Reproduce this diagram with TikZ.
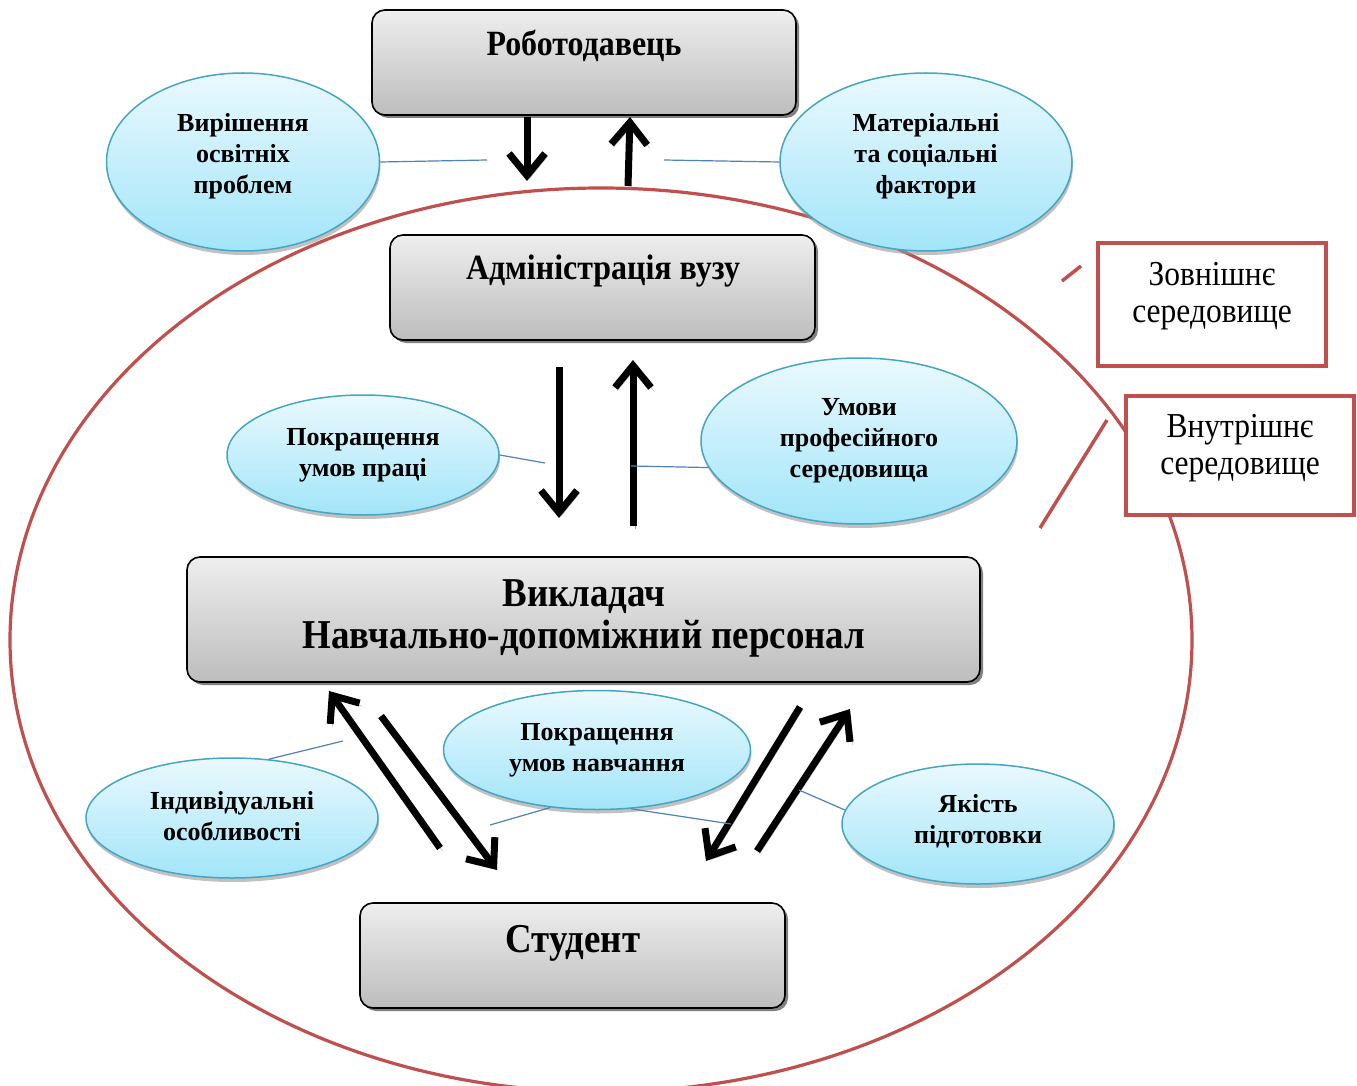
\documentclass[tikz,border=0pt]{standalone}
\usepackage{fontspec}
\setmainfont[FakeStretch=0.9]{Liberation Serif}
\newfontfamily\ellfont{Liberation Serif}
\usetikzlibrary{arrows.meta,shadows,calc,shapes.geometric}
\definecolor{redc}{HTML}{C0504D}
\definecolor{thinb}{HTML}{4F81BD}
\definecolor{ellb}{HTML}{46A5C2}
\definecolor{ellt}{HTML}{EAF9FE}
\definecolor{ellbot}{HTML}{A2E5F9}
\definecolor{boxt}{HTML}{EEEEEE}
\definecolor{boxbot}{HTML}{BDBDBD}
\tikzset{
  boxnode/.style={draw=black, line width=1.6pt, rounded corners=13pt, top color=boxt, bottom color=boxbot,
    drop shadow={shadow xshift=3pt, shadow yshift=-3pt, fill=black!70, opacity=0.7}},
  boxtext/.style={font=\bfseries\fontsize{35.5}{40}\selectfont, align=center, inner sep=0pt},
  bigtext/.style={font=\bfseries\fontsize{41}{42}\selectfont, align=center, inner sep=0pt},
  ellnode/.style={ellipse, draw=ellb, line width=1.5pt, top color=ellt, bottom color=ellbot, inner sep=0pt,
    drop shadow={shadow xshift=1pt, shadow yshift=-4pt, fill=black!40, opacity=0.6},
    align=center, font=\ellfont\bfseries\fontsize{26}{31}\selectfont},
  elltext/.style={align=center, inner sep=0pt, font=\ellfont\bfseries\fontsize{26}{31}\selectfont},
  labnode/.style={draw=redc, line width=3.5pt, fill=white, align=center, inner sep=0pt},
  labtext/.style={font=\fontsize{35}{37}\selectfont, align=center, inner sep=0pt},
  bigarrow/.style={line width=7pt, -{Straight Barb[length=22pt,width=36pt]},
    preaction={draw=black!35, transform canvas={xshift=2.5pt,yshift=-3pt}}},
  thin/.style={draw=thinb, line width=1.2pt},
  redline/.style={draw=redc, line width=3.5pt},
}
\begin{document}
\begin{tikzpicture}[x=1pt,y=-1pt]
\useasboundingbox (0,0) rectangle (1357,1086);
\fill[white] (0,0) rectangle (1357,1086);

% big red ellipse (inner environment)
\draw[redline, line width=3.2pt] (601,640) ellipse [x radius=591, y radius=452];

% boxes
\node[boxnode, minimum width=424pt, minimum height=105pt] (rob) at (584,62.5) {};
\node[boxtext] (robt) at (584,46) {Роботодавець};
\node[boxnode, minimum width=425pt, minimum height=105pt] (adm) at (602.5,287.5) {};
\node[boxtext] (admt) at (603,271) {Адміністрація вузу};
\node[boxnode, minimum width=793pt, minimum height=125pt] (vyk) at (583.5,619.5) {};
\node[bigtext] (vykt) at (584,618) {Викладач\\Навчально-допоміжний персонал};
\node[boxnode, minimum width=425pt, minimum height=105pt] (stu) at (572.5,955.5) {};
\node[bigtext] (stut) at (573,943) {Студент};

% ellipses
\node[ellnode, minimum width=273pt, minimum height=178pt] (vyr) at (243,162) {};
\node[elltext] (vyrt) at (243,156) {Вирішення\\освітніх\\проблем};
\node[ellnode, minimum width=292pt, minimum height=178pt] (mat) at (926,162) {};
\node[elltext] (matt) at (926,156) {Матеріальні\\та соціальні\\фактори};
\node[ellnode, minimum width=272pt, minimum height=120pt] (prac) at (363,455) {Покращення\\умов праці};
\node[ellnode, minimum width=316pt, minimum height=166pt] (prof) at (859,441) {Умови\\професійного\\середовища};
\node[ellnode, minimum width=307pt, minimum height=119pt] (nav) at (597,750) {Покращення\\умов навчання};
\node[ellnode, minimum width=292pt, minimum height=120pt] (ind) at (232,818) {};
\node[elltext] (indt) at (232,816) {Індивідуальні\\особливості};
\node[ellnode, minimum width=272pt, minimum height=120pt] (yak) at (978,824) {};
\node[elltext] (yakt) at (978,821) {Якість\\підготовки};

% arrow end points
\coordinate (a1s) at (527,117);  \coordinate (a1e) at (527,181);
\coordinate (a2s) at (628,186);  \coordinate (a2e) at (630,117);
\coordinate (a3s) at (559,367);  \coordinate (a3e) at (559,518);
\coordinate (a4s) at (633,526);  \coordinate (a4e) at (633,360);
\coordinate (a5s) at (440,848);  \coordinate (a5e) at (329,691);
\coordinate (a6s) at (381,716);  \coordinate (a6e) at (497,870);
\coordinate (a7s) at (800,707);  \coordinate (a7e) at (706,861);
\coordinate (a8s) at (757,851);  \coordinate (a8e) at (850,709);

\draw[bigarrow] (a1s) -- (a1e);
\draw[bigarrow] (a2s) -- (a2e);
\draw[bigarrow] (a3s) -- (a3e);
\draw[bigarrow] (a4s) -- (a4e);
\draw[bigarrow] (a5s) -- (a5e);
\draw[bigarrow] (a6s) -- (a6e);
\draw[bigarrow] (a7s) -- (a7e);
\draw[bigarrow] (a8s) -- (a8e);

% thin connectors
\coordinate (c1) at (487,160);
\coordinate (c2) at (664,160);
\coordinate (c3) at (545,463);
\coordinate (c4) at (631,466);
\coordinate (c5) at (343,741);
\coordinate (c6) at (490,825);
\coordinate (c7) at (731,824);
\coordinate (c8) at (799,790);
\draw[thin] (vyr.east) -- (c1);
\draw[thin] (c2) -- (mat.west);
\draw[thin] (prac.east) -- (c3);
\draw[thin] (c4) -- (prof.190);
\draw[thin] (ind.58) -- (c5);
\draw[thin] (c6) -- (nav.231);
\draw[thin] (nav.300) -- (c7);
\draw[thin] (c8) -- (yak.174);

% labels
\node[labnode, minimum width=228pt, minimum height=123pt] (zov) at (1212,304.5) {};
\node[labtext] (zovt) at (1212,296) {Зовнішнє\\середовище};
\node[labnode, minimum width=228pt, minimum height=119pt] (vnu) at (1240,455.5) {};
\node[labtext] (vnut) at (1240,448) {Внутрішнє\\середовище};

\coordinate (z1) at (1062,281); \coordinate (z2) at (1081,266);
\draw[redline] (z1) -- (z2);
\coordinate (v1) at (1040,528); \coordinate (v2) at (1107,420);
\draw[redline] (v1) -- (v2);
\end{tikzpicture}
\end{document}
